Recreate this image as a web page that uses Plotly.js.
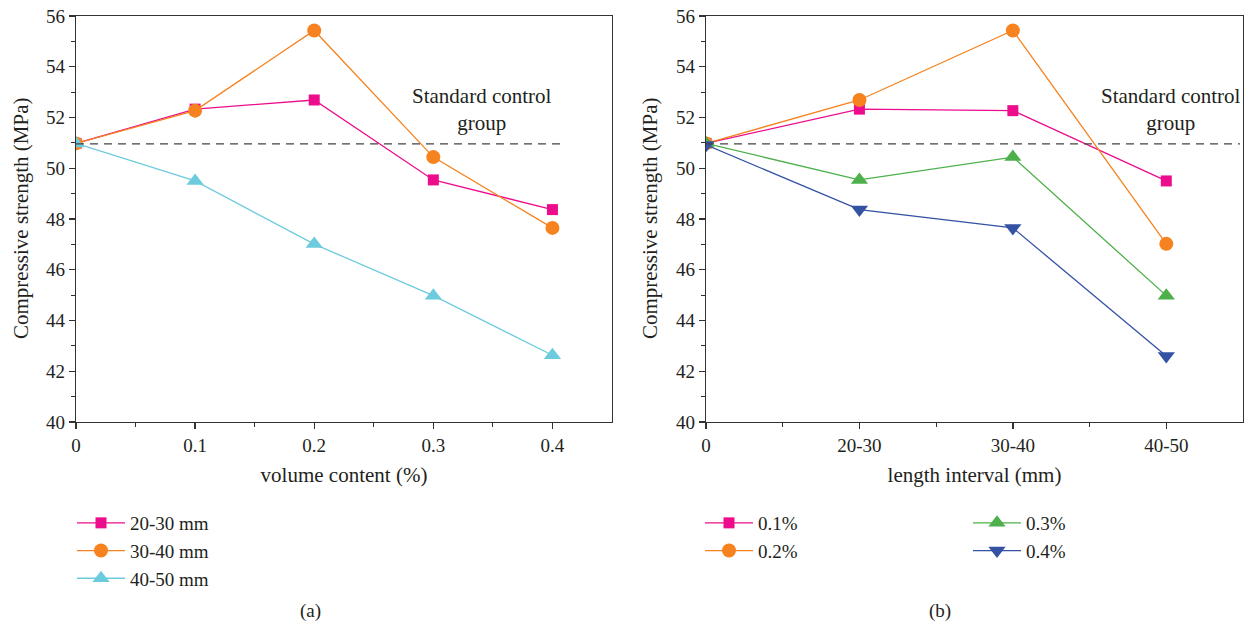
<!DOCTYPE html>
<html>
<head>
<meta charset="utf-8">
<script src="https://cdn.plot.ly/plotly-3.0.1.min.js"></script>
<style>html,body{margin:0;padding:0;background:#fff;}#chart{width:1244px;height:629px;}</style>
</head>
<body>
<div id="chart"></div>
<script>
// Panel (a): x = volume content (%)
const volumeContent = [0, 0.1, 0.2, 0.3, 0.4];
const len2030 = [50.98, 52.33, 52.69, 49.54, 48.37];
const len3040 = [50.98, 52.27, 55.43, 50.44, 47.65];
const len4050 = [50.98, 49.50, 47.01, 44.98, 42.63];

// Panel (b): x = length interval (mm)
const lengthCats = ["0", "20-30", "30-40", "40-50"];
const vol01 = [50.98, 52.33, 52.27, 49.50];
const vol02 = [50.98, 52.69, 55.43, 47.02];
const vol03 = [50.98, 49.54, 50.44, 44.98];
const vol04 = [50.92, 48.37, 47.65, 42.60];

const controlValue = 50.96;
const seriesNamesA = ["20-30 mm", "30-40 mm", "40-50 mm"];
const seriesNamesB = ["0.1%", "0.2%", "0.3%", "0.4%"];

const C = {mag:"#EC0C8C", org:"#F6831F", cyn:"#6CCBDC", grn:"#4DB04A", blu:"#3452A3"};
const FONT = "Liberation Serif, Times New Roman, serif";
const TXT = "#231f20";
const catIdx = lengthCats.map((c,i)=>i);

function tr(x,y,name,color,symbol,size,xa,ya,legend){
  return {x:x,y:y,name:name,type:"scatter",mode:"lines+markers",xaxis:xa,yaxis:ya,legend:legend,
    line:{color:color,width:1.3},marker:{color:color,symbol:symbol,size:size}};
}

const data = [
  tr(volumeContent,len2030,seriesNamesA[0],C.mag,"square",11,"x","y","legend"),
  tr(volumeContent,len3040,seriesNamesA[1],C.org,"circle",14,"x","y","legend"),
  tr(volumeContent,len4050,seriesNamesA[2],C.cyn,"triangle-up",15,"x","y","legend"),
  tr(catIdx,vol01,seriesNamesB[0],C.mag,"square",11,"x2","y2","legend2"),
  tr(catIdx,vol02,seriesNamesB[1],C.org,"circle",14,"x2","y2","legend2"),
  tr(catIdx,vol03,seriesNamesB[2],C.grn,"triangle-up",15,"x2","y2","legend3"),
  tr(catIdx,vol04,seriesNamesB[3],C.blu,"triangle-down",15,"x2","y2","legend3")
];

const axBase = {showgrid:false,zeroline:false,showline:true,mirror:true,linecolor:"#333",linewidth:1.3,
  ticks:"outside",ticklen:6,tickwidth:1.3,tickcolor:"#333",automargin:false,
  tickfont:{family:FONT,size:19,color:TXT}};
const yBase = Object.assign({},axBase,{range:[40,56],dtick:2,tick0:40,
  minor:{dtick:1,ticks:"outside",ticklen:4,tickwidth:1.2,tickcolor:"#333"}});

const W=1244, PT=16, PB=422;
const py = p => (PB - p)/(PB - PT);   // pixel row -> paper y
const px = p => p/W;                   // pixel col -> paper x
const legFont = {family:FONT,size:19,color:TXT};
const titleFont = {family:FONT,size:21,color:TXT};
const layout = {
  width:1244,height:629,margin:{l:0,r:0,t:PT,b:629-PB,autoexpand:false},
  paper_bgcolor:"#fff",plot_bgcolor:"#fff",
  font:{family:FONT,color:TXT},
  xaxis:Object.assign({},axBase,{domain:[px(76),px(612)],range:[0,0.45],tickvals:[0,0.1,0.2,0.3,0.4],
    ticktext:["0","0.1","0.2","0.3","0.4"],
    minor:{tickvals:[0.05,0.15,0.25,0.35],ticks:"outside",ticklen:4,tickwidth:1.2,tickcolor:"#333"},
    title:{text:"volume content (%)",font:titleFont,standoff:12}}),
  yaxis:Object.assign({},yBase,{anchor:"x"}),
  xaxis2:Object.assign({},axBase,{domain:[px(706),px(1243)],range:[0,3.5],anchor:"y2",
    tickvals:catIdx,ticktext:lengthCats,
    minor:{tickvals:[0.5,1.5,2.5],ticks:"outside",ticklen:4,tickwidth:1.2,tickcolor:"#333"},
    title:{text:"length interval (mm)",font:titleFont,standoff:12}}),
  yaxis2:Object.assign({},yBase,{anchor:"x2"}),
  showlegend:true,
  legend:{x:px(72),y:py(504),xanchor:"left",yanchor:"top",font:legFont,bgcolor:"rgba(0,0,0,0)",itemwidth:48},
  legend2:{x:px(700),y:py(504),xanchor:"left",yanchor:"top",font:legFont,bgcolor:"rgba(0,0,0,0)",itemwidth:48},
  legend3:{x:px(968),y:py(504),xanchor:"left",yanchor:"top",font:legFont,bgcolor:"rgba(0,0,0,0)",itemwidth:48},
  shapes:[
    {type:"line",xref:"x",yref:"y",x0:0,x1:0.41,y0:controlValue,y1:controlValue,
      line:{color:"#444",width:1.3,dash:"8px,6px"}},
    {type:"line",xref:"x2",yref:"y2",x0:0,x1:3.48,y0:controlValue,y1:controlValue,
      line:{color:"#444",width:1.3,dash:"8px,6px"}}
  ],
  annotations:[
    {xref:"x",yref:"y",x:0.341,y:52.33,text:"Standard control<br>group",showarrow:false,
      xanchor:"center",yanchor:"middle",font:{family:FONT,size:21,color:TXT},align:"center"},
    {xref:"x2",yref:"y2",x:3.03,y:52.33,text:"Standard control<br>group",showarrow:false,
      xanchor:"center",yanchor:"middle",font:{family:FONT,size:21,color:TXT},align:"center"},
    {xref:"paper",yref:"paper",x:px(21),y:py(219),text:"Compressive strength (MPa)",textangle:-90,showarrow:false,
      xanchor:"center",yanchor:"middle",font:titleFont},
    {xref:"paper",yref:"paper",x:px(650),y:py(219),text:"Compressive strength (MPa)",textangle:-90,showarrow:false,
      xanchor:"center",yanchor:"middle",font:titleFont},
    {xref:"paper",yref:"paper",x:px(310),y:py(611),text:"(a)",showarrow:false,
      xanchor:"center",yanchor:"middle",font:{family:FONT,size:19,color:TXT}},
    {xref:"paper",yref:"paper",x:px(940),y:py(611),text:"(b)",showarrow:false,
      xanchor:"center",yanchor:"middle",font:{family:FONT,size:19,color:TXT}}
  ]
};

Plotly.newPlot("chart",data,layout,{displayModeBar:false,staticPlot:true});
</script>
</body>
</html>
